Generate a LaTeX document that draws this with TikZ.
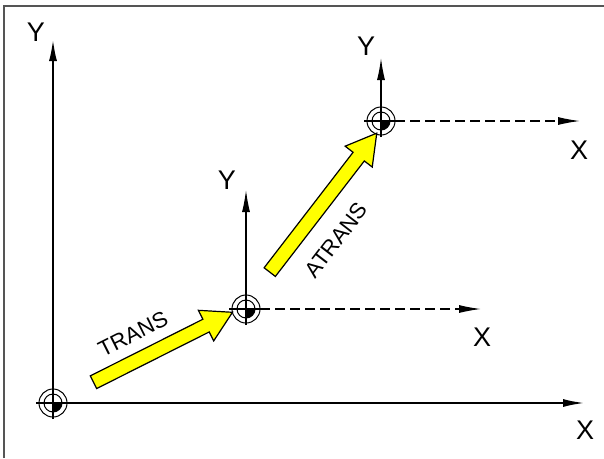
\documentclass[tikz,border=0pt]{standalone}
\usepackage{fontspec}
\setmainfont{Liberation Sans}
\usetikzlibrary{arrows.meta, shapes.arrows}
\definecolor{frmgray}{HTML}{555555}
\definecolor{movyellow}{HTML}{FFFF00}

% origin mark: two rings, crosshair, filled quadrant
\newcommand{\orgmark}[1]{%
  \begin{scope}
    \clip (#1) rectangle ([xshift=10pt, yshift=-10pt]#1);
    \fill (#1) circle (9pt);
  \end{scope}
  \draw[line width=1pt] (#1) circle (9pt);
  \draw[line width=1pt] (#1) circle (14pt);
  \draw[line width=1.2pt] ([xshift=-17pt]#1) -- ([xshift=17pt]#1);
  \draw[line width=1.2pt] ([yshift=-16pt]#1) -- ([yshift=16pt]#1);
}

\begin{document}
\begin{tikzpicture}[
  x=1pt, y=-1pt,
  axis/.style={-{Latex[length=22pt, width=8pt]}, line width=2.2pt},
  subaxis/.style={-{Latex[length=22pt, width=8pt]}, line width=1.2pt},
  movarrow/.style={single arrow, draw=black, fill=movyellow, line width=1.2pt,
    inner sep=6.5pt, single arrow head extend=10pt, single arrow tip angle=60},
  axlbl/.style={font=\fontsize{27}{30}\selectfont, inner sep=0pt},
  movlbl/.style={font=\fontsize{22}{25}\selectfont, inner sep=0pt},
]
\useasboundingbox (0,0) rectangle (604,458);

% frame
\draw[frmgray, line width=1.5pt] (4,458) -- (4,6) -- (604,6);

% origins
\coordinate (o1) at (53,403);
\coordinate (o2) at (246,309);
\coordinate (o3) at (381,121);

% axis ends
\coordinate (x1a) at (40,403);
\coordinate (x1b) at (585,403);
\coordinate (y1a) at (53,418);
\coordinate (y1b) at (53,39);
\coordinate (x2b) at (481,309);
\coordinate (y2b) at (246,190);
\coordinate (x3b) at (580,121);
\coordinate (y3b) at (381,58);

% base frame
\draw[axis] (x1a) -- (x1b);
\draw[axis] (y1a) -- (y1b);

% TRANS frame
\draw[subaxis] (o2) -- (y2b);
\draw[subaxis, dash pattern=on 10pt off 5pt] ([xshift=14pt]o2) -- (x2b);

% ATRANS frame
\draw[subaxis] (o3) -- (y3b);
\draw[subaxis, dash pattern=on 10pt off 5pt] ([xshift=14pt]o3) -- (x3b);

\orgmark{o1}
\orgmark{o2}
\orgmark{o3}

% axis labels
\node[axlbl] (ly1) at (36,32) {Y};
\node[axlbl] (lx1) at (585,430) {X};
\node[axlbl] (ly2) at (227,180) {Y};
\node[axlbl] (lx2) at (482,337) {X};
\node[axlbl] (ly3) at (366,46) {Y};
\node[axlbl] (lx3) at (579,150) {X};

% offset arrows
\node[movarrow, minimum height=155.6pt, rotate=26.7] (trans) at (157.5,350) {};
\node[movarrow, minimum height=175.4pt, rotate=52.4] (atrans) at (319.5,207.5) {};
\node[movlbl, rotate=26.7] (ltrans) at (133,334) {TRANS};
\node[movlbl, rotate=52.4] (latrans) at (336,240) {ATRANS};

\end{tikzpicture}
\end{document}
